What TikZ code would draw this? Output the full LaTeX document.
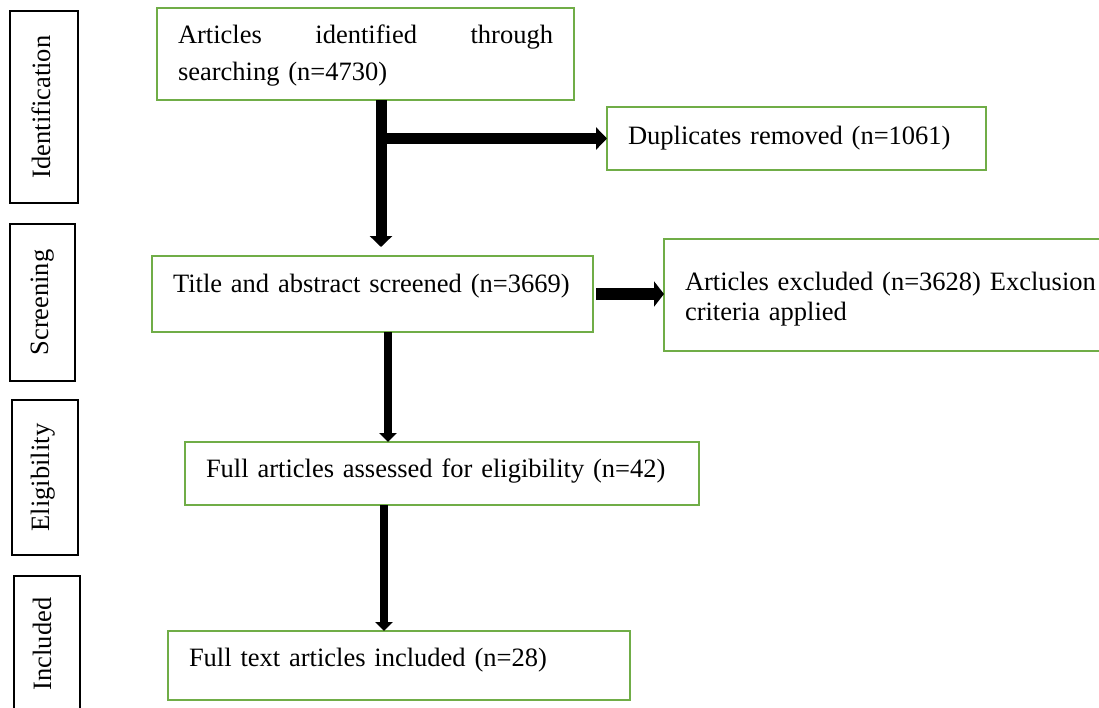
\documentclass[tikz,border=0pt]{standalone}
\usepackage{fontspec}
\setmainfont{Liberation Serif}
\usetikzlibrary{arrows.meta}
\definecolor{boxgreen}{RGB}{112,173,71}
\begin{document}
\begin{tikzpicture}[x=1pt,y=-1pt,
  every node/.style={inner sep=0pt, outer sep=0pt},
  txt/.style={font=\fontsize{26.5}{30}\selectfont},
  gbox/.style={txt, draw=boxgreen, line width=2.5pt, anchor=north west, inner xsep=21pt, inner ysep=0pt, align=left},
  sbox/.style={txt, draw=black, line width=1.8pt, rotate=90, inner sep=0pt, anchor=center},
  bigarr/.style={line width=11pt, -{Triangle[length=11pt,width=22pt]}},
  midarr/.style={line width=12pt, -{Triangle[length=10pt,width=25pt]}},
  smallarr/.style={line width=8pt, -{Triangle[length=9pt,width=17pt]}},
]
\useasboundingbox (0,0) rectangle (1099,707);
\fill[white] (0,0) rectangle (1099,707);

% side stage labels
\node[sbox, minimum width=192pt, text height=40pt, text depth=28pt] (sId) at (44,107) {Identification};
\node[sbox, minimum width=157pt, text height=38pt, text depth=27pt] (sSc) at (42.5,302.5) {Screening};
\node[sbox, minimum width=155pt, text height=37pt, text depth=29pt] (sEl) at (45,477.5) {Eligibility};
\node[sbox, minimum width=136pt, text height=37pt, text depth=29pt] (sIn) at (47,644) {Included};

% flow boxes
\node[gbox, text width=375pt, text height=35pt, text depth=57pt, font=\fontsize{26.5}{37}\selectfont] (A) at (157,8)
  {Articles \hfill identified \hfill through\\searching (n=4730)};
\node[gbox, text width=337pt, text height=37pt, text depth=26pt] (Dup) at (607,107)
  {Duplicates removed (n=1061)};
\node[gbox, text width=399pt, text height=36pt, text depth=40pt] (B) at (152,256)
  {Title and abstract screened (n=3669)};
\node[gbox, text width=420pt, text height=51pt, text depth=61pt] (Ex) at (664,239)
  {Articles excluded (n=3628) Exclusion\\criteria applied};
\node[gbox, text width=472pt, text height=35pt, text depth=28pt] (C) at (185,442)
  {Full articles assessed for eligibility (n=42)};
\node[gbox, text width=420pt, text height=35pt, text depth=34pt] (D) at (168,631)
  {Full text articles included (n=28)};

% connectors
\coordinate (v1) at (381,0);
\coordinate (v2) at (388,0);
\coordinate (v3) at (384,0);
\draw[bigarr, shorten >=9pt] (A.south -| v1) -- (B.north -| v1);
\draw[bigarr] (v1 |- Dup.west) -- (Dup.west);
\draw[midarr, shorten <=3pt] (B.east) -- (Ex.west |- B.east);
\draw[smallarr] (B.south -| v2) -- (C.north -| v2);
\draw[smallarr] (C.south -| v3) -- (D.north -| v3);
\end{tikzpicture}
\end{document}
